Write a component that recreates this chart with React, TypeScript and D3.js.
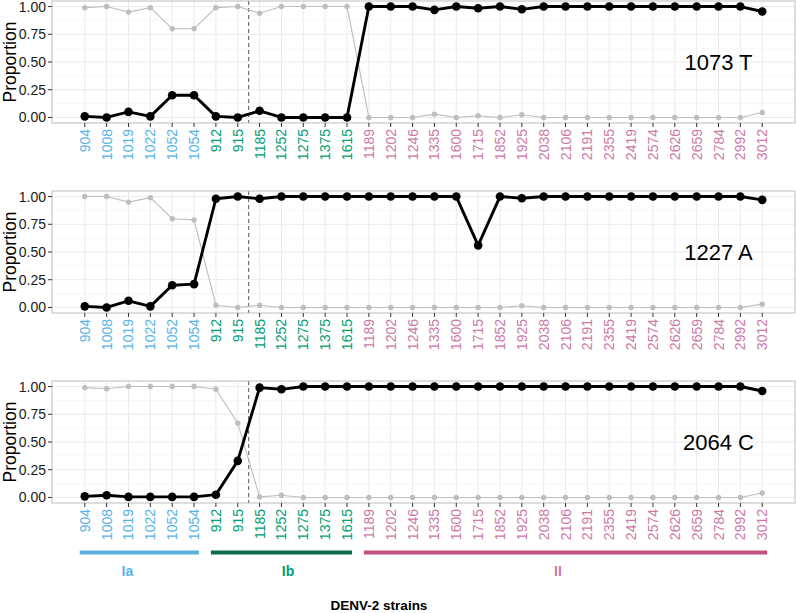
import * as d3 from 'd3';

const strains = ['904', '1008', '1019', '1022', '1052', '1054', '912', '915', '1185', '1252', '1275', '1375', '1615', '1189', '1202', '1246', '1335', '1600', '1715', '1852', '1925', '2038', '2106', '2191', '2355', '2419', '2574', '2626', '2659', '2784', '2992', '3012'];
// clade of each strain
const clades = ['Ia', 'Ia', 'Ia', 'Ia', 'Ia', 'Ia', 'Ib', 'Ib', 'Ib', 'Ib', 'Ib', 'Ib', 'Ib', 'II', 'II', 'II', 'II', 'II', 'II', 'II', 'II', 'II', 'II', 'II', 'II', 'II', 'II', 'II', 'II', 'II', 'II', 'II'];

const panelLabels = ['1073 T', '1227 A', '2064 C'];

// proportion of the named allele (black) and of the other allele (grey)
const allele1073 = [0.01, 0.0, 0.05, 0.01, 0.2, 0.2, 0.01, 0.0, 0.06, 0.0, 0.0, 0.0, 0.0, 1.0, 1.0, 1.0, 0.97, 1.0, 0.985, 1.0, 0.975, 1.0, 1.0, 1.0, 1.0, 1.0, 1.0, 1.0, 1.0, 1.0, 1.0, 0.955];
const other1073 = [0.99, 1.0, 0.95, 0.99, 0.8, 0.8, 0.99, 1.0, 0.94, 1.0, 1.0, 1.0, 1.0, 0.0, 0.0, 0.0, 0.03, 0.0, 0.015, 0.0, 0.025, 0.0, 0.0, 0.0, 0.0, 0.0, 0.0, 0.0, 0.0, 0.0, 0.0, 0.045];

const allele1227 = [0.01, 0.0, 0.06, 0.01, 0.2, 0.21, 0.98, 1.0, 0.98, 1.0, 1.0, 1.0, 1.0, 1.0, 1.0, 1.0, 1.0, 1.0, 0.56, 1.0, 0.985, 1.0, 1.0, 1.0, 1.0, 1.0, 1.0, 1.0, 1.0, 1.0, 1.0, 0.97];
const other1227 = [1.0, 1.0, 0.95, 0.99, 0.8, 0.79, 0.02, 0.0, 0.02, 0.0, 0.0, 0.0, 0.0, 0.0, 0.0, 0.0, 0.0, 0.0, 0.0, 0.0, 0.015, 0.0, 0.0, 0.0, 0.0, 0.0, 0.0, 0.0, 0.0, 0.0, 0.0, 0.03];

const allele2064 = [0.01, 0.02, 0.005, 0.005, 0.005, 0.005, 0.025, 0.33, 0.99, 0.975, 1.0, 1.0, 1.0, 1.0, 1.0, 1.0, 1.0, 1.0, 1.0, 1.0, 1.0, 1.0, 1.0, 1.0, 1.0, 1.0, 1.0, 1.0, 1.0, 1.0, 1.0, 0.96];
const other2064 = [0.99, 0.98, 1.0, 1.0, 1.0, 1.0, 0.975, 0.67, 0.005, 0.02, 0.0, 0.0, 0.0, 0.0, 0.0, 0.0, 0.0, 0.0, 0.0, 0.0, 0.0, 0.0, 0.0, 0.0, 0.0, 0.0, 0.0, 0.0, 0.0, 0.0, 0.0, 0.04];

const yTicks = [0, 0.25, 0.5, 0.75, 1];
const yMinor = [0.125, 0.375, 0.625, 0.875];

const cladeNames = ['Ia', 'Ib', 'II'];
// where the clade label sits, in strain-index units
const cladeLabelPos = [1.95, 9.3, 21.65];

const cladeText: Record<string, string> = { Ia: '#56B4E9', Ib: '#009E73', II: '#CC79A7' };
const cladeBar: Record<string, string> = { Ia: '#5DB0DE', Ib: '#0B6B4C', II: '#C4507F' };

const width = 796;
const height = 613;
const left = 52;
const right = 795;
const panelTops = [1, 191, 381];
const panelH = 122;

const series = [
    { black: allele1073, grey: other1073 },
    { black: allele1227, grey: other1227 },
    { black: allele2064, grey: other2064 },
];

const font = '"Liberation Sans", Arial, Helvetica, sans-serif';

function Panel({ top, label, black, grey }: { top: number; label: string; black: number[]; grey: number[] }) {
    const x = d3.scalePoint<string>().domain(strains).range([left, right]).padding(1.5);
    const y = d3.scaleLinear().domain([-0.05, 1.05]).range([top + panelH, top]);
    const idx = d3.scaleLinear().domain([0, strains.length - 1]).range([x(strains[0]) as number, x(strains[strains.length - 1]) as number]);

    const line = d3
        .line<number>()
        .x((_, i) => x(strains[i]) as number)
        .y((d) => y(d));

    const bottom = top + panelH;

    return (
        <g>
            <rect x={left} y={top} width={right - left} height={panelH} fill='white' />
            {yMinor.map((v) => (
                <line key={'m' + v} x1={left} x2={right} y1={y(v)} y2={y(v)} stroke='#F2F2F2' strokeWidth={0.6} />
            ))}
            {yTicks.map((v) => (
                <line key={'g' + v} x1={left} x2={right} y1={y(v)} y2={y(v)} stroke='#EBEBEB' strokeWidth={1} />
            ))}
            {strains.map((s) => (
                <line key={'v' + s} x1={x(s)} x2={x(s)} y1={top} y2={bottom} stroke='#EBEBEB' strokeWidth={1} />
            ))}
            <line x1={idx(7.5)} x2={idx(7.5)} y1={top} y2={bottom} stroke='#555' strokeWidth={1} strokeDasharray='4,3' />

            <path d={line(grey) as string} fill='none' stroke='#BEBEBE' strokeWidth={1.1} />
            {grey.map((v, i) => (
                <circle key={'gp' + i} cx={x(strains[i])} cy={y(v)} r={2.7} fill='#BEBEBE' />
            ))}
            <path d={line(black) as string} fill='none' stroke='black' strokeWidth={2.9} strokeLinejoin='round' />
            {black.map((v, i) => (
                <circle key={'bp' + i} cx={x(strains[i])} cy={y(v)} r={4.3} fill='black' />
            ))}

            <rect x={left} y={top} width={right - left} height={panelH} fill='none' stroke='#BDBDBD' strokeWidth={1} />

            <text x={idx(29)} y={y(0.5)} fontSize={22} fontFamily={font} textAnchor='middle' dominantBaseline='central' fill='black'>
                {label}
            </text>

            {yTicks.map((v) => (
                <g key={'yt' + v}>
                    <line x1={left - 4} x2={left} y1={y(v)} y2={y(v)} stroke='#333' />
                    <text x={left - 6} y={y(v)} fontSize={14} fontFamily={font} textAnchor='end' dominantBaseline='central' fill='#1a1a1a'>
                        {v.toFixed(2)}
                    </text>
                </g>
            ))}
            <text transform={`translate(15.5, ${top + panelH / 2}) rotate(-90)`} fontSize={17.5} fontFamily={font} textAnchor='middle' fill='black'>
                Proportion
            </text>

            {strains.map((s, i) => (
                <g key={'xt' + s}>
                    <line x1={x(s)} x2={x(s)} y1={bottom} y2={bottom + 4} stroke='#333' />
                    <text
                        transform={`translate(${x(s)}, ${bottom + 6}) rotate(-90)`}
                        fontSize={14}
                        fontFamily={font}
                        textAnchor='end'
                        dominantBaseline='central'
                        fill={cladeText[clades[i]]}
                    >
                        {s}
                    </text>
                </g>
            ))}
        </g>
    );
}

function CladeLegend() {
    const x = d3.scalePoint<string>().domain(strains).range([left, right]).padding(1.5);
    const idx = d3.scaleLinear().domain([0, strains.length - 1]).range([x(strains[0]) as number, x(strains[strains.length - 1]) as number]);
    return (
        <g>
            {cladeNames.map((c, k) => {
                const members = strains.filter((_, i) => clades[i] === c);
                const x0 = (x(members[0]) as number) - 5;
                const x1 = (x(members[members.length - 1]) as number) + 5;
                return (
                    <g key={c}>
                        <line x1={x0} x2={x1} y1={552.5} y2={552.5} stroke={cladeBar[c]} strokeWidth={4} />
                        <text x={idx(cladeLabelPos[k])} y={571} fontSize={14} fontWeight='bold' fontFamily={font} textAnchor='middle' dominantBaseline='central' fill={cladeText[c]}>
                            {c}
                        </text>
                    </g>
                );
            })}
            <text x={379} y={605} fontSize={13.5} fontWeight='bold' fontFamily={font} textAnchor='middle' dominantBaseline='central' fill='black'>
                DENV-2 strains
            </text>
        </g>
    );
}

export default function App() {
    return (
        <svg width={width} height={height} style={{ position: 'absolute', left: 0, top: 0, background: 'white' }}>
            <rect width={width} height={height} fill='white' />
            {series.map((s, k) => (
                <Panel key={k} top={panelTops[k]} label={panelLabels[k]} black={s.black} grey={s.grey} />
            ))}
            <CladeLegend />
        </svg>
    );
}
